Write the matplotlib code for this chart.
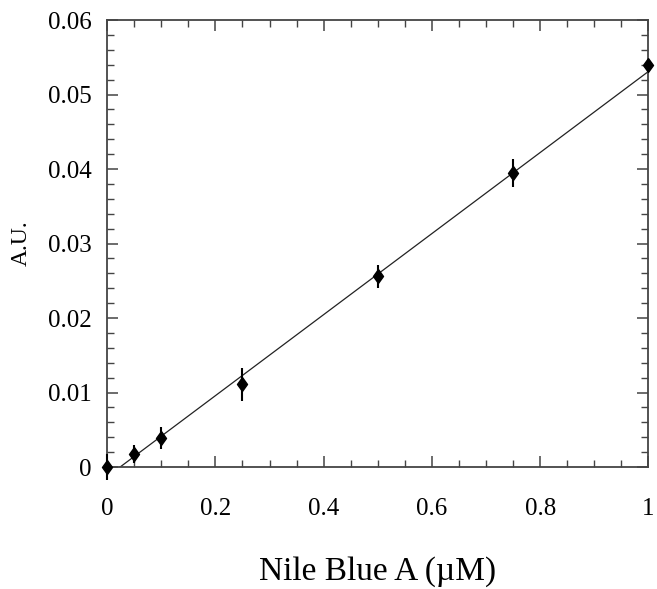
import matplotlib
matplotlib.use("Agg")
import matplotlib.pyplot as plt
from matplotlib.ticker import MultipleLocator, FuncFormatter
import numpy as np

# Nile Blue A calibration data
conc_uM = [0.0, 0.05, 0.10, 0.25, 0.50, 0.75, 1.00]
absorb = [0.0, 0.0017, 0.0039, 0.0111, 0.0256, 0.0395, 0.0540]
absorb_err = [0.0017, 0.0012, 0.0015, 0.0022, 0.0015, 0.0019, 0.0]

# linear fit
fit_slope = 0.0544
fit_intercept = -0.0013

plt.rcParams['font.family'] = ['Liberation Serif', 'DejaVu Serif']

fig = plt.figure(figsize=(6.57, 5.89), dpi=100)
ax = fig.add_axes([0.163, 0.207, 0.824, 0.759])

x0 = -fit_intercept / fit_slope
xf = np.array([x0, 1.0])
ax.plot(xf, fit_slope * xf + fit_intercept, color='#222222', lw=0.9, zorder=2)

ax.errorbar(conc_uM, absorb, yerr=absorb_err, fmt='none', ecolor='black',
            elinewidth=1.5, capsize=0, zorder=3, clip_on=False)
diamond = [(0, 1), (0.72, 0), (0, -1), (-0.72, 0), (0, 1)]
ax.plot(conc_uM, absorb, linestyle='none', marker=diamond, markersize=10,
        color='black', zorder=4, clip_on=False)

ax.set_xlim(0, 1)
ax.set_ylim(0, 0.06)

ax.xaxis.set_major_locator(MultipleLocator(0.2))
ax.xaxis.set_minor_locator(MultipleLocator(0.05))
ax.yaxis.set_major_locator(MultipleLocator(0.01))
ax.yaxis.set_minor_locator(MultipleLocator(0.002))

ax.xaxis.set_major_formatter(FuncFormatter(
    lambda v, p: '0' if abs(v) < 1e-12 else ('1' if abs(v - 1) < 1e-12 else '%g' % round(v, 2))))
ax.yaxis.set_major_formatter(FuncFormatter(
    lambda v, p: '0' if abs(v) < 1e-12 else '%.2f' % v))

ax.tick_params(which='both', direction='in', top=True, right=True,
               color='#444444', labelsize=18)
ax.tick_params(which='major', length=8, width=1.1)
ax.tick_params(which='minor', length=5, width=1.0)
ax.tick_params(axis='x', which='major', pad=22)
ax.tick_params(axis='y', which='major', pad=11)

for s in ax.spines.values():
    s.set_linewidth(1.3)
    s.set_color('#444444')

ax.set_xlabel('Nile Blue A (\u00b5M)', fontsize=24, labelpad=26)
ax.set_ylabel('A.U.', fontsize=17, labelpad=12)

fig.savefig('out.png', dpi=100)
